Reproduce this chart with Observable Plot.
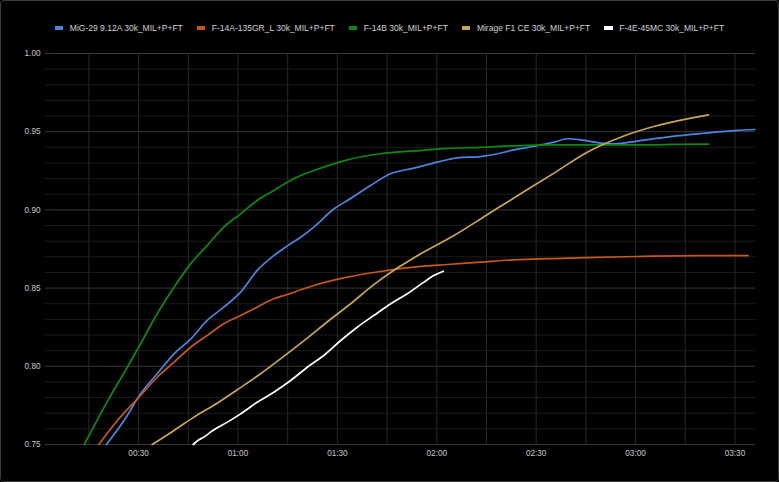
<!DOCTYPE html>
<html>
<head>
<meta charset="utf-8">
<script src="https://cdn.jsdelivr.net/npm/d3@7"></script>
<script src="https://cdn.jsdelivr.net/npm/@observablehq/plot@0.6"></script>
<style>
  html, body { margin: 0; padding: 0; background: #000; }
  #frame {
    width: 779px; height: 482px; box-sizing: border-box;
    border: 1px solid #3c3c3c; border-radius: 4px; background: #000;
    font-family: "Liberation Sans", Arial, sans-serif; overflow: hidden;
  }
  #legend {
    height: 44px; display: flex; align-items: center; justify-content: center;
    box-sizing: border-box; padding-top: 10px;
    font-size: 8.5px; color: #d2d2d2; gap: 14px;
  }
  .item { display: flex; align-items: center; height: 12px; }
  .sw { width: 8.5px; height: 4px; margin-right: 6.5px; display: inline-block; }
  svg { display: block; }
</style>
</head>
<body>
<div id="frame">
  <div id="legend"></div>
  <div id="chart"></div>
</div>
<script>
// ---- data (time in seconds, Mach) ----
const seriesNames = [
  "MiG-29 9.12A 30k_MIL+P+FT",
  "F-14A-135GR_L 30k_MIL+P+FT",
  "F-14B 30k_MIL+P+FT",
  "Mirage F1 CE 30k_MIL+P+FT",
  "F-4E-45MC 30k_MIL+P+FT"
];
const seriesColors = ["#4a86e0", "#c8581a", "#0b8a0b", "#c9a651", "#ffffff"];

const mig29 = [
  [20.3,0.750],[25.6,0.7653],[30.6,0.7824],[35.6,0.7952],[40.7,0.808],[45.7,0.8174],
  [50.7,0.8293],[55.7,0.8378],[60.8,0.8474],[65.8,0.8613],[70.8,0.8708],[74.9,0.877],
  [78.9,0.8825],[82.9,0.889],[89.0,0.9007],[93.0,0.906],[100.0,0.9156],[106.0,0.9231],
  [113.1,0.9267],[120.2,0.9305],[126.2,0.9333],[133.2,0.9341],[138.3,0.9359],
  [143.3,0.9384],[150.3,0.941],[155.4,0.9433],[159.4,0.9455],[163.4,0.9448],
  [169.5,0.9427],[173.5,0.9423],[180.5,0.944],[190.6,0.9469],[200.6,0.949],
  [210.7,0.9508],[216.0,0.9514]
];
const f14a = [
  [18.0,0.750],[23.6,0.7653],[30.6,0.7813],[35.6,0.793],[40.7,0.8026],[45.7,0.8122],
  [50.7,0.8197],[55.7,0.8272],[60.8,0.8325],[65.8,0.8378],[70.8,0.8432],[74.9,0.8459],
  [78.9,0.8489],[82.9,0.8517],[93.0,0.857],[103.0,0.8606],[113.1,0.8634],[123.2,0.8651],
  [133.2,0.8666],[143.3,0.8681],[151.3,0.8687],[155.4,0.8689],[165.0,0.8695],
  [180.5,0.8702],[198.6,0.8708],[214.0,0.8708]
];
const f14b = [
  [13.6,0.750],[17.5,0.7656],[20.6,0.7776],[26.6,0.7994],[30.6,0.8144],[35.6,0.8336],
  [40.7,0.8506],[45.7,0.8655],[50.7,0.8772],[55.7,0.889],[60.8,0.8975],[65.8,0.906],
  [70.8,0.9124],[74.9,0.9177],[78.9,0.922],[82.9,0.9252],[93.0,0.932],[103.0,0.9359],
  [113.1,0.9377],[123.2,0.9393],[133.2,0.940],[143.3,0.941],[155.4,0.9416],
  [170.0,0.9416],[185.5,0.9416],[192.0,0.9419],[202.0,0.942]
];
const mirage = [
  [34.1,0.750],[40.7,0.759],[46.7,0.7675],[53.8,0.7765],[59.8,0.785],[66.8,0.7952],
  [73.9,0.8065],[80.9,0.8180],[87.0,0.8285],[94.0,0.840],[101.0,0.8522],[108.1,0.8628],
  [115.2,0.872],[125.2,0.8836],[135.2,0.8969],[145.3,0.9103],[155.4,0.9235],
  [165.4,0.9369],[175.5,0.9465],[185.5,0.9533],[195.6,0.9582],[202.0,0.9608]
];
const f4e = [
  [46.5,0.750],[48.2,0.753],[49.7,0.7547],[51.7,0.7579],[56.8,0.7643],[60.8,0.7696],
  [65.8,0.777],[70.8,0.7834],[75.9,0.7909],[80.9,0.7994],[85.9,0.8069],[91.0,0.8165],
  [96.0,0.825],[101.0,0.8325],[106.1,0.840],[111.1,0.8464],[116.1,0.8538],
  [119.1,0.858],[122.0,0.8608]
];

// axis / grid values
const yTicks = [0.75, 0.80, 0.85, 0.90, 0.95, 1.00];
const yMinor = [0.76,0.77,0.78,0.79,0.81,0.82,0.83,0.84,0.86,0.87,0.88,0.89,0.91,0.92,0.93,0.94,0.96,0.97,0.98,0.99];
const xTicks = [30, 60, 90, 120, 150, 180, 210];
const xGrid = [15, 30, 45, 60, 75, 90, 105, 120, 135, 150, 165, 180, 195, 210];

// ---- build rows ----
const allSeries = [mig29, f14a, f14b, mirage, f4e];
const rows = allSeries.flatMap((s, i) => s.map(([t, v]) => ({t, v, name: seriesNames[i]})));

// legend
const legend = document.getElementById("legend");
seriesNames.forEach((n, i) => {
  const it = document.createElement("div");
  it.className = "item";
  it.innerHTML = `<span class="sw" style="background:${seriesColors[i]}"></span><span>${n}</span>`;
  legend.appendChild(it);
});

const fmtTime = s => {
  const m = Math.floor(s / 60), sec = Math.round(s % 60);
  return String(m).padStart(2, "0") + ":" + String(sec).padStart(2, "0");
};

const xDomain = [1.9, 216.2];
const chart = Plot.plot({
  width: 777,
  height: 436,
  marginTop: 8,
  marginBottom: 37,
  marginLeft: 44,
  marginRight: 23,
  style: {background: "#000", color: "#c8c8c8", fontFamily: "Liberation Sans, Arial, sans-serif", fontSize: "8.2px"},
  x: {domain: xDomain, ticks: xTicks, tickFormat: fmtTime, tickSize: 0, tickPadding: 6, label: null},
  y: {domain: [0.75, 1.0], ticks: yTicks, tickFormat: d3.format(".2f"), tickSize: 0, tickPadding: 5, label: null},
  color: {domain: seriesNames, range: seriesColors},
  marks: [
    Plot.ruleY(yMinor, {stroke: "#1c1c1c", strokeWidth: 1}),
    Plot.ruleX(xGrid, {stroke: "#282828", strokeWidth: 1}),
    Plot.ruleY(yTicks, {stroke: "#383838", strokeWidth: 1}),
    Plot.line(rows, {x: "t", y: "v", z: "name", stroke: "name", strokeWidth: 1.7, curve: "monotone-x"})
  ]
});
document.getElementById("chart").appendChild(chart);
</script>
</body>
</html>
